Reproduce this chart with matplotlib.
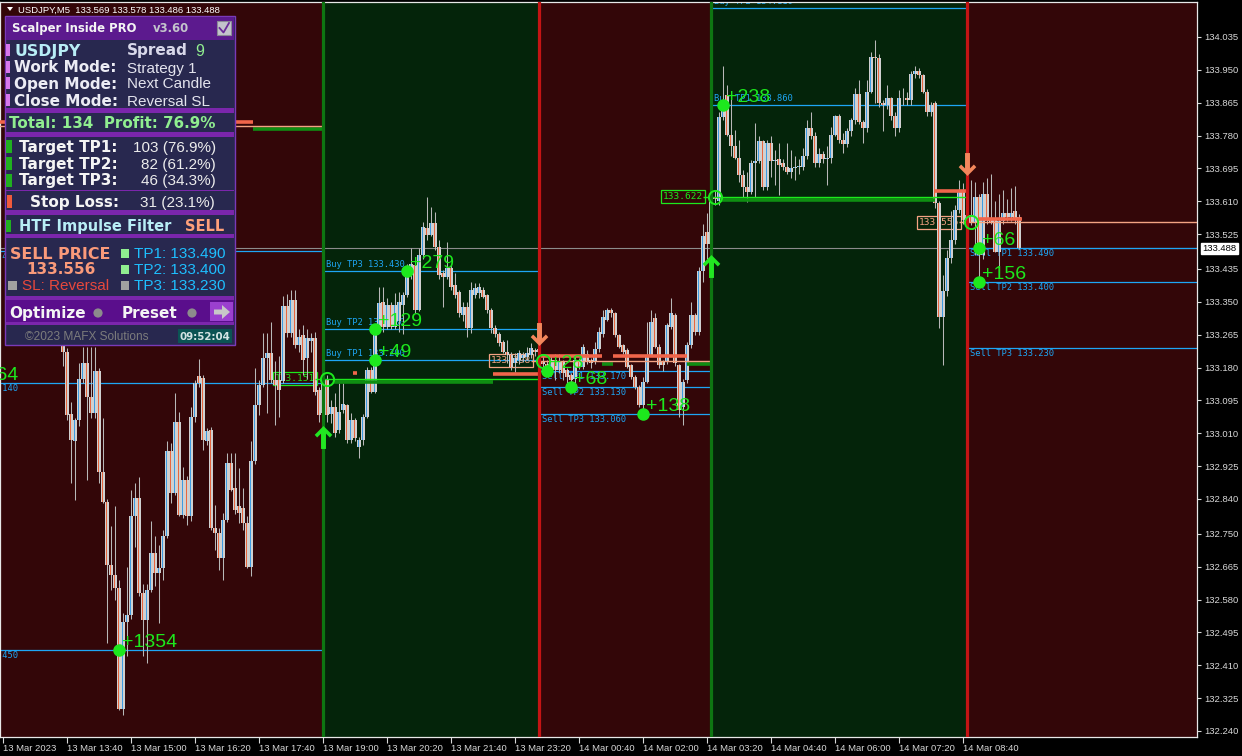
import numpy as np
import matplotlib as mpl
mpl.use('Agg')
import matplotlib.pyplot as plt
from matplotlib.patches import Rectangle, Circle, Polygon
from matplotlib.path import Path
from matplotlib.markers import MarkerStyle
from matplotlib.transforms import offset_copy, blended_transform_factory

W, H, DPI = 1242, 756, 100

# ---------------------------------------------------------------------------
# Candles (USDJPY M5, bar 0 = 13 Mar 12:20; bars before 15 sit under the panel)
# ---------------------------------------------------------------------------
FIRST_BAR = 15

OPEN = [
    133.250, 133.221, 133.060, 132.990, 133.045, 133.150, 133.191, 133.105, 133.062, 133.170,
    132.911, 132.833, 132.670, 132.644, 132.609, 132.296, 132.523, 132.540, 132.795, 132.842,
    132.596, 132.527, 132.605, 132.700, 132.648, 132.661, 132.743, 132.963, 132.855, 133.040,
    132.799, 132.890, 132.795, 133.053, 133.157, 133.152, 132.989, 133.019, 132.765, 132.752,
    132.687, 132.786, 132.933, 132.868, 132.821, 132.816, 132.777, 132.665, 132.937, 133.083,
    133.135, 133.204, 133.217, 133.148, 133.148, 133.144, 133.338, 133.270, 133.355, 133.239,
    133.265, 133.204, 133.248, 133.256, 133.122, 133.062, 133.148, 133.060, 133.079, 133.019,
    133.070, 133.083, 132.993, 133.044, 132.975, 132.993, 133.053, 133.174, 133.118, 133.281,
    133.350, 133.286, 133.342, 133.286, 133.300, 133.342, 133.368, 133.419, 133.445, 133.329,
    133.471, 133.540, 133.523, 133.553, 133.493, 133.424, 133.415, 133.437, 133.393, 133.376,
    133.316, 133.337, 133.281, 133.368, 133.372, 133.381, 133.368, 133.329, 133.281, 133.268,
    133.247, 133.221, 133.212, 133.191, 133.200, 133.204, 133.208, 133.212, 133.225, 133.221,
    133.198, 133.190, 133.173, 133.199, 133.173, 133.195, 133.173, 133.160, 133.150, 133.199,
    133.182, 133.215, 133.199, 133.195, 133.229, 133.268, 133.303, 133.328, 133.320, 133.264,
    133.238, 133.225, 133.186, 133.156, 133.130, 133.083, 133.143, 133.212, 133.307, 133.234,
    133.195, 133.195, 133.285, 133.315, 133.186, 133.078, 133.147, 133.238, 133.315, 133.272,
    133.430, 133.530, 133.500, 133.620, 133.610, 133.829, 133.885, 133.782, 133.752, 133.722,
    133.678, 133.648, 133.635, 133.709, 133.713, 133.765, 133.648, 133.760, 133.713, 133.719,
    133.708, 133.700, 133.685, 133.696, 133.700, 133.700, 133.728, 133.799, 133.778, 133.709,
    133.733, 133.720, 133.721, 133.782, 133.831, 133.769, 133.758, 133.791, 133.821, 133.887,
    133.816, 133.799, 133.894, 133.983, 133.980, 133.864, 133.860, 133.877, 133.831, 133.799,
    133.877, 133.877, 133.872, 133.940, 133.948, 133.937, 133.894, 133.842, 133.864, 133.605,
    133.312, 133.377, 133.463, 133.510, 133.588, 133.635, 133.562, 133.575, 133.556, 133.620,
    133.470, 133.630, 133.565, 133.565, 133.480, 133.560, 133.580, 133.570, 133.585, 133.569,
]
HIGH = [
    133.270, 133.230, 133.092, 133.050, 133.191, 133.234, 133.234, 133.234, 133.234, 133.180,
    133.050, 132.840, 132.770, 132.821, 132.630, 132.545, 132.665, 132.864, 132.881, 132.898,
    132.620, 132.620, 132.782, 132.743, 132.720, 132.760, 132.989, 132.985, 133.114, 133.066,
    132.924, 132.900, 133.079, 133.148, 133.202, 133.160, 133.023, 133.025, 132.825, 132.765,
    132.803, 132.958, 132.958, 132.958, 132.920, 132.868, 132.795, 132.989, 133.178, 133.148,
    133.269, 133.269, 133.299, 133.196, 133.210, 133.364, 133.370, 133.380, 133.380, 133.280,
    133.290, 133.280, 133.270, 133.273, 133.130, 133.160, 133.160, 133.096, 133.113, 133.139,
    133.139, 133.087, 133.062, 133.050, 133.000, 133.060, 133.182, 133.182, 133.286, 133.389,
    133.389, 133.360, 133.350, 133.372, 133.376, 133.376, 133.449, 133.488, 133.450, 133.490,
    133.557, 133.622, 133.596, 133.583, 133.510, 133.432, 133.506, 133.445, 133.424, 133.381,
    133.350, 133.350, 133.402, 133.398, 133.398, 133.389, 133.370, 133.333, 133.290, 133.273,
    133.250, 133.251, 133.220, 133.217, 133.225, 133.220, 133.234, 133.243, 133.230, 133.240,
    133.215, 133.200, 133.210, 133.216, 133.216, 133.200, 133.180, 133.165, 133.210, 133.205,
    133.240, 133.225, 133.205, 133.247, 133.285, 133.328, 133.333, 133.333, 133.324, 133.268,
    133.242, 133.230, 133.190, 133.160, 133.135, 133.156, 133.298, 133.328, 133.320, 133.240,
    133.200, 133.294, 133.359, 133.320, 133.190, 133.150, 133.245, 133.350, 133.320, 133.440,
    133.550, 133.580, 133.650, 133.640, 133.840, 133.959, 133.911, 133.885, 133.795, 133.769,
    133.691, 133.687, 133.717, 133.812, 133.778, 133.769, 133.769, 133.778, 133.743, 133.760,
    133.720, 133.760, 133.743, 133.726, 133.720, 133.747, 133.821, 133.842, 133.790, 133.747,
    133.740, 133.752, 133.803, 133.834, 133.835, 133.786, 133.799, 133.825, 133.903, 133.924,
    133.820, 133.924, 133.997, 134.028, 133.990, 133.872, 133.911, 133.880, 133.840, 133.898,
    133.903, 133.894, 133.946, 133.959, 133.954, 133.940, 133.900, 133.868, 133.870, 133.610,
    133.420, 133.484, 133.584, 133.601, 133.665, 133.657, 133.691, 133.665, 133.660, 133.630,
    133.660, 133.670, 133.680, 133.610, 133.630, 133.640, 133.615, 133.645, 133.650, 133.578,
]
LOW = [
    133.183, 133.045, 132.881, 132.838, 133.030, 133.140, 132.890, 133.050, 133.050, 132.881,
    132.830, 132.467, 132.605, 132.579, 132.295, 132.282, 132.433, 132.530, 132.717, 132.590,
    132.433, 132.415, 132.600, 132.614, 132.519, 132.630, 132.740, 132.830, 132.850, 132.795,
    132.790, 132.773, 132.782, 133.040, 133.130, 132.967, 132.980, 132.760, 132.709, 132.657,
    132.631, 132.780, 132.860, 132.800, 132.777, 132.760, 132.661, 132.640, 132.930, 133.058,
    133.130, 133.062, 133.140, 133.032, 133.053, 133.140, 133.260, 133.260, 133.230, 133.220,
    133.160, 133.150, 133.220, 133.110, 133.040, 133.036, 133.040, 133.036, 133.001, 133.010,
    133.062, 132.984, 132.984, 132.990, 132.945, 132.980, 133.050, 133.113, 133.113, 133.270,
    133.273, 133.280, 133.280, 133.280, 133.273, 133.268, 133.363, 133.410, 133.320, 133.325,
    133.460, 133.510, 133.520, 133.483, 133.410, 133.337, 133.410, 133.381, 133.360, 133.310,
    133.300, 133.260, 133.270, 133.360, 133.360, 133.359, 133.320, 133.270, 133.260, 133.235,
    133.217, 133.191, 133.174, 133.169, 133.190, 133.195, 133.200, 133.205, 133.210, 133.215,
    133.180, 133.168, 133.165, 133.147, 133.165, 133.147, 133.140, 133.128, 133.140, 133.175,
    133.175, 133.190, 133.180, 133.190, 133.220, 133.260, 133.300, 133.311, 133.260, 133.230,
    133.215, 133.178, 133.150, 133.125, 133.078, 133.060, 133.140, 133.210, 133.230, 133.180,
    133.170, 133.190, 133.280, 133.185, 133.053, 133.031, 133.140, 133.230, 133.265, 133.265,
    133.400, 133.460, 133.490, 133.600, 133.601, 133.820, 133.780, 133.726, 133.720, 133.661,
    133.622, 133.609, 133.630, 133.622, 133.710, 133.640, 133.640, 133.674, 133.653, 133.627,
    133.690, 133.680, 133.670, 133.666, 133.680, 133.690, 133.720, 133.770, 133.700, 133.700,
    133.710, 133.653, 133.710, 133.780, 133.760, 133.735, 133.750, 133.780, 133.810, 133.810,
    133.760, 133.790, 133.890, 133.864, 133.855, 133.791, 133.850, 133.820, 133.778, 133.790,
    133.860, 133.860, 133.860, 133.930, 133.930, 133.890, 133.830, 133.830, 133.592, 133.282,
    133.187, 133.364, 133.450, 133.500, 133.580, 133.550, 133.550, 133.549, 133.470, 133.398,
    133.460, 133.550, 133.550, 133.480, 133.420, 133.550, 133.560, 133.560, 133.550, 133.486,
]
CLOSE = [
    133.221, 133.058, 132.993, 133.045, 133.150, 133.191, 133.105, 133.062, 133.170, 132.911,
    132.833, 132.670, 132.644, 132.609, 132.296, 132.523, 132.540, 132.795, 132.842, 132.596,
    132.527, 132.605, 132.700, 132.648, 132.661, 132.743, 132.963, 132.855, 133.040, 132.799,
    132.890, 132.795, 133.053, 133.140, 133.140, 132.993, 133.015, 132.765, 132.752, 132.687,
    132.786, 132.933, 132.864, 132.812, 132.803, 132.777, 132.665, 132.937, 133.083, 133.135,
    133.204, 133.217, 133.148, 133.135, 133.122, 133.338, 133.270, 133.355, 133.239, 133.260,
    133.200, 133.256, 133.256, 133.118, 133.058, 133.148, 133.058, 133.079, 133.010, 133.066,
    133.087, 132.993, 133.044, 132.997, 132.993, 133.053, 133.174, 133.118, 133.281, 133.346,
    133.286, 133.342, 133.286, 133.342, 133.350, 133.368, 133.419, 133.449, 133.329, 133.471,
    133.544, 133.523, 133.553, 133.493, 133.419, 133.415, 133.437, 133.389, 133.368, 133.320,
    133.337, 133.281, 133.381, 133.385, 133.389, 133.363, 133.329, 133.281, 133.268, 133.243,
    133.221, 133.212, 133.182, 133.204, 133.217, 133.212, 133.217, 133.230, 133.221, 133.229,
    133.190, 133.175, 133.199, 133.173, 133.195, 133.165, 133.156, 133.147, 133.199, 133.182,
    133.234, 133.195, 133.191, 133.229, 133.272, 133.311, 133.328, 133.320, 133.264, 133.234,
    133.221, 133.182, 133.156, 133.130, 133.083, 133.143, 133.212, 133.298, 133.234, 133.186,
    133.186, 133.290, 133.320, 133.191, 133.070, 133.143, 133.238, 133.315, 133.272, 133.430,
    133.520, 133.500, 133.620, 133.615, 133.829, 133.855, 133.782, 133.752, 133.722, 133.678,
    133.648, 133.635, 133.709, 133.713, 133.765, 133.648, 133.760, 133.713, 133.717, 133.704,
    133.700, 133.685, 133.696, 133.700, 133.701, 133.728, 133.799, 133.778, 133.709, 133.733,
    133.719, 133.721, 133.782, 133.831, 133.769, 133.758, 133.791, 133.821, 133.887, 133.816,
    133.799, 133.894, 133.983, 133.980, 133.864, 133.860, 133.877, 133.831, 133.799, 133.877,
    133.876, 133.872, 133.940, 133.948, 133.937, 133.894, 133.842, 133.859, 133.605, 133.312,
    133.377, 133.463, 133.510, 133.588, 133.635, 133.562, 133.575, 133.556, 133.620, 133.470,
    133.630, 133.560, 133.555, 133.480, 133.560, 133.580, 133.570, 133.580, 133.565, 133.488,
]

TIME_TICKS = [0, 16, 32, 48, 64, 80, 96, 112, 128, 144, 160, 176, 192, 208, 224, 240]
TIME_LABELS = ['13 Mar 2023', '13 Mar 13:40', '13 Mar 15:00', '13 Mar 16:20',
               '13 Mar 17:40', '13 Mar 19:00', '13 Mar 20:20', '13 Mar 21:40',
               '13 Mar 23:20', '14 Mar 00:40', '14 Mar 02:00', '14 Mar 03:20',
               '14 Mar 04:40', '14 Mar 06:00', '14 Mar 07:20', '14 Mar 08:40']
PRICE_TICKS = [134.035, 133.950, 133.865, 133.780, 133.695, 133.610, 133.525, 133.435,
               133.350, 133.265, 133.180, 133.095, 133.010, 132.925, 132.840, 132.750,
               132.665, 132.580, 132.495, 132.410, 132.325, 132.240]
LAST_PRICE = 133.488
HEADER = 'USDJPY,M5  133.569 133.578 133.486 133.488'

# ---------------------------------------------------------------------------
# Indicator: trades (one per coloured zone)
# ---------------------------------------------------------------------------
TRADE_SIDE = ['sell', 'buy', 'sell', 'buy', 'sell']
SIGNAL_BAR = [-18, 80, 134, 177, 241]
END_BAR = [80, 134, 177, 241, 299]
ENTRY_BAR = [-17, 81, 135, 178, 242]
ENTRY_PRICE = [133.804, 133.151, 133.198, 133.622, 133.556]
TP1 = [133.481, 133.200, 133.170, 133.860, 133.490]
TP2 = [133.140, 133.280, 133.130, 134.110, 133.400]
TP3 = [132.450, 133.430, 133.060, None, 133.230]
ARROW_PRICE = [None, 133.000, 133.268, 133.443, 133.707]

# TP hits: filled dots with profit in points
HIT_BAR = [-8, 29, 93, 93, 101, 136, 142, 160, 180, 244, 244]
HIT_PRICE = [133.140, 132.450, 133.200, 133.280, 133.430, 133.170, 133.130,
             133.060, 133.860, 133.490, 133.400]
HIT_TEXT = ['+664', '+1354', '+49', '+129', '+279', '+28', '+68', '+138',
            '+238', '+66', '+156']

# signal-strength bands drawn along the entry lines
BAND_START = [-18, 62.5, 82.5, 122.5, 87.5, 133.75, 152.5, 149.75, 171, 179.25, 233, 244]
BAND_END = [62.5, 80, 122.5, 134, 88.5, 149.75, 171, 152.5, 177, 233, 241, 254.75]
BAND_PRICE = [133.815, 133.797, 133.143, 133.164, 133.167, 133.210, 133.210, 133.189,
              133.189, 133.614, 133.637, 133.565]
BAND_KIND = ['sell', 'buy', 'buy', 'sell', 'sell', 'sell', 'sell', 'buy', 'buy',
             'buy', 'sell', 'sell']

# colours
BG_SELL = '#330608'
BG_BUY = '#04240a'
LINE_SELL = '#c41414'
LINE_BUY = '#0e7612'
WICK = '#b8b8b8'
BODY_UP = '#3d9be2'
BODY_DN = '#e8663e'
BODY_GREY = '#d0d0d0'
TP_COL = '#1ea6f5'
LIME = '#1de81d'
PEACH = '#f4a383'
BAND_COL = {'sell': '#f0654b', 'buy': '#0f8e12'}
ARROW_COL = {'buy': '#22e622', 'sell': '#f3875c'}

# plot area in pixels
PLOT_L, PLOT_R, PLOT_T, PLOT_B = 0, 1197, 2, 737
X0, X1 = -0.75, 298.5
Y_TOP, Y_BOT = 134.1255, 132.2244

MONO = 'DejaVu Sans Mono'
SANS = 'Liberation Sans'

fig = plt.figure(figsize=(W / DPI, H / DPI), dpi=DPI, facecolor='black')
ax = fig.add_axes([PLOT_L / W, 1 - PLOT_B / H, (PLOT_R - PLOT_L) / W, (PLOT_B - PLOT_T) / H])
ax.set_xlim(X0, X1)
ax.set_ylim(Y_BOT, Y_TOP)
ax.set_facecolor(BG_SELL)


def offs(dx, dy):
    return offset_copy(ax.transData, fig=fig, x=dx, y=dy, units='dots')


# zones + separators
for k in range(len(SIGNAL_BAR)):
    bg = BG_BUY if TRADE_SIDE[k] == 'buy' else BG_SELL
    ax.axvspan(SIGNAL_BAR[k], END_BAR[k], color=bg, lw=0, zorder=0)
    ax.axvline(SIGNAL_BAR[k], color=LINE_BUY if TRADE_SIDE[k] == 'buy' else LINE_SELL,
               lw=2.3, zorder=5)

ax.axhline(LAST_PRICE, color='#8c8c8c', lw=0.8, zorder=1.5)

# TP lines and labels, entry lines, price boxes
for k in range(len(SIGNAL_BAR)):
    buy = TRADE_SIDE[k] == 'buy'
    word = 'Buy' if buy else 'Sell'
    for n, tp in enumerate([TP1[k], TP2[k], TP3[k]], start=1):
        if tp is None:
            continue
        ax.hlines(tp, SIGNAL_BAR[k], END_BAR[k], color=TP_COL, lw=0.9, zorder=1.6)
        ax.text(SIGNAL_BAR[k] + 0.75, tp, f'{word} TP{n} {tp:.3f}',
                transform=offs(0, 2 if buy else -1),
                va='bottom' if buy else 'top', ha='left', fontsize=6.3,
                family=MONO, color=TP_COL, clip_on=True, zorder=1.7)
    col = LIME if buy else PEACH
    ax.hlines(ENTRY_PRICE[k], SIGNAL_BAR[k] - 2, END_BAR[k], color=col, lw=1.0, zorder=4)
    ax.text(SIGNAL_BAR[k] - 2, ENTRY_PRICE[k], f'{ENTRY_PRICE[k]:.3f}', ha='right',
            va='center', fontsize=6.8, family=MONO, color=col, clip_on=True, zorder=2.5,
            bbox=dict(boxstyle='square,pad=0.2', fc='none', ec=col, lw=0.9))

# candles: grey wick, grey body with a coloured stripe on its left half
bars = np.arange(FIRST_BAR, FIRST_BAR + len(OPEN))
o = np.array(OPEN)
c = np.array(CLOSE)
ax.vlines(bars, LOW, HIGH, color=WICK, lw=0.75, zorder=3)
body_lo = np.minimum(o, c)
body_h = np.maximum(np.abs(c - o), 0.0018)
ax.bar(bars, body_h, bottom=body_lo, width=0.84, color=BODY_GREY, linewidth=0, zorder=3.1)
ax.bar(bars - 0.14, body_h, bottom=body_lo, width=0.38,
       color=[BODY_UP if cc >= oo else BODY_DN for oo, cc in zip(o, c)],
       linewidth=0, zorder=3.2)

# bands
for s, e, p, kind in zip(BAND_START, BAND_END, BAND_PRICE, BAND_KIND):
    ax.hlines(p, s, e, color=BAND_COL[kind], lw=2.6, zorder=3.5, capstyle='butt')

# entry circles
for k in range(len(SIGNAL_BAR)):
    ax.plot(ENTRY_BAR[k], ENTRY_PRICE[k], 'o', ms=9.5, mfc='none', mec=LIME, mew=1.4,
            zorder=7)

# signal arrows
UP_VERTS = [(0, 32.5), (25, 7.5), (18, 0), (7, 11), (7, -32.5), (-7, -32.5),
            (-7, 11), (-18, 0), (-25, 7.5), (0, 32.5)]
CODES = [Path.MOVETO] + [Path.LINETO] * 8 + [Path.CLOSEPOLY]
UP_MARK = MarkerStyle(Path(UP_VERTS, CODES))
DN_MARK = MarkerStyle(Path([(x, -y) for x, y in UP_VERTS], CODES))
for k in range(len(SIGNAL_BAR)):
    if ARROW_PRICE[k] is None:
        continue
    buy = TRADE_SIDE[k] == 'buy'
    ax.plot(SIGNAL_BAR[k], ARROW_PRICE[k], marker=UP_MARK if buy else DN_MARK, ms=16.5,
            color=ARROW_COL[TRADE_SIDE[k]], mew=0, zorder=8)

# TP hit dots + profits
for b, p, t in zip(HIT_BAR, HIT_PRICE, HIT_TEXT):
    ax.plot(b, p, 'o', ms=8, color=LIME, zorder=8, clip_on=True)
    ax.text(b, p, t, transform=offs(3, 3), ha='left', va='baseline', fontsize=14,
            family=SANS, color=LIME, clip_on=True, zorder=9)

# axes styling
for sp in ax.spines.values():
    sp.set_color('#e8e8e8')
    sp.set_linewidth(0.9)
ax.yaxis.tick_right()
ax.set_yticks(PRICE_TICKS)
ax.set_yticklabels([f'{v:.3f}' for v in PRICE_TICKS])
ax.set_xticks(TIME_TICKS)
ax.set_xticklabels(TIME_LABELS, ha='left')
ax.tick_params(axis='y', colors='#d8d8d8', labelsize=6.8, length=3, width=0.8, pad=2)
ax.tick_params(axis='x', colors='#d8d8d8', labelsize=6.8, length=4, width=0.8, pad=1)
for lab in ax.get_xticklabels() + ax.get_yticklabels():
    lab.set_family(SANS)

ax.text(1.0045, LAST_PRICE, f'{LAST_PRICE:.3f}',
        transform=blended_transform_factory(ax.transAxes, ax.transData),
        ha='left', va='center', fontsize=6.8, family=SANS, color='black', clip_on=False,
        zorder=10, bbox=dict(boxstyle='square,pad=0.15', fc='white', ec='white'))

# ---------------------------------------------------------------------------
# Overlay: header + Scalper Inside panel (pixel coordinates)
# ---------------------------------------------------------------------------
pax = fig.add_axes([0, 0, 1, 1], zorder=20)
pax.set_xlim(0, W)
pax.set_ylim(H, 0)
pax.axis('off')
pax.patch.set_alpha(0)


def box(x0, y0, x1, y1, color, **kw):
    pax.add_patch(Rectangle((x0, y0), x1 - x0, y1 - y0, fc=color, ec=kw.pop('ec', 'none'), **kw))


def txt(x, yc, s, size, color, bold=False, family=None, ha='left'):
    fam = family or ('DejaVu Sans' if bold else SANS)
    pax.text(x, yc + 0.36 * size * DPI / 72, s, fontsize=size, color=color, ha=ha,
             va='baseline', family=fam, fontweight='bold' if bold else 'normal')


pax.add_patch(Polygon([(7, 7), (13, 7), (10, 11)], closed=True, fc='white', ec='none'))
txt(18, 9.5, HEADER, 6.8, 'white')

PANEL_BG = '#28284f'
SEP = '#7b26ac'
box(5, 16, 235, 345, PANEL_BG, ec='#7a3ab8', lw=1)
box(6, 17, 234, 40, '#5c1a8e')
txt(12, 28, 'Scalper Inside PRO', 8.4, '#f4f4f4', bold=True)
txt(153, 28, 'v3.60', 8.4, '#c4c4cc', bold=True)
box(217, 21, 231, 35, '#c4c4cc', ec='#8a8a96', lw=0.8)
pax.plot([219.5, 223.5, 229], [28, 32.5, 23], color='#6b2a9a', lw=1.3)

for yc in [50, 67, 83, 100]:
    box(6, yc - 6, 9.5, yc + 6, '#d878ec')
txt(14, 50, 'USDJPY', 11.3, '#b8eef6', bold=True)
txt(127, 50, 'Spread', 11, '#d8d8ea', bold=True)
txt(195, 50, '9', 11.5, '#90ee90')
for yc, lab, val in [(67, 'Work Mode:', 'Strategy 1'), (83, 'Open Mode:', 'Next Candle'),
                     (100, 'Close Mode:', 'Reversal SL')]:
    txt(14, yc, lab, 11, '#ececf4', bold=True)
    txt(127, yc, val, 11, '#e4e4ee')

box(6, 108, 234, 113, SEP)
txt(9, 123, 'Total: 134  Profit: 76.9%', 10.9, '#90ee90', bold=True)
box(6, 132, 234, 136.5, SEP)

for yc, lab, val, vx in [(146.5, 'Target TP1:', '103 (76.9%)', 133),
                         (163, 'Target TP2:', '82 (61.2%)', 141),
                         (180, 'Target TP3:', '46 (34.3%)', 141)]:
    box(6, yc - 6.5, 11.5, yc + 6.5, '#20b020')
    txt(19, yc, lab, 11, '#f4f4f4', bold=True)
    txt(vx, yc, val, 11, '#ececec')
box(6, 189.5, 234, 191, SEP)
box(6.5, 194.5, 11.5, 207.5, '#f05a3c')
txt(30, 201, 'Stop Loss:', 11, '#f4f4f4', bold=True)
txt(140, 201, '31 (23.1%)', 11, '#ececec')
box(6, 210, 234, 215, SEP)
box(6, 219.5, 11, 232, '#20b020')
txt(19, 226, 'HTF Impulse Filter', 10.5, '#b8eef6', bold=True)
txt(185, 226, 'SELL', 10.5, '#ffa07a', bold=True)
box(6, 233.5, 234, 238, SEP)

txt(10, 253, 'SELL PRICE', 11.4, '#fa9a7a', bold=True)
txt(61, 269, '133.556', 11, '#fa9a7a', bold=True, ha='center')
box(7.5, 280.5, 16.5, 289.5, '#a0a0a0')
txt(22, 285, 'SL: Reversal', 11, '#e8483c')
for yc, lab, sq in [(253, 'TP1: 133.490', '#90ee90'), (269, 'TP2: 133.400', '#90ee90'),
                    (285, 'TP3: 133.230', '#a0a0a0')]:
    box(121, yc - 4.5, 129, yc + 4.5, sq)
    txt(134, yc, lab, 11, '#1ebfff')

box(6, 296, 234, 300, SEP)
box(6, 300, 234, 322, '#5a0e8c')
txt(9, 312.5, 'Optimize', 11, '#f4f4f4', bold=True)
pax.add_patch(Circle((98, 313), 4.6, fc='#8c8c8c', ec='none'))
txt(122, 312.5, 'Preset', 11, '#f4f4f4', bold=True)
pax.add_patch(Circle((192, 313), 4.6, fc='#8c8c8c', ec='none'))
box(210, 302, 233, 321, '#9b40cf')
pax.add_patch(Polygon([(214, 309.5), (222, 309.5), (222, 305), (230, 312), (222, 319),
                       (222, 314.5), (214, 314.5)], closed=True, fc='#c8c8c8', ec='none'))
box(6, 322, 234, 325, SEP)
txt(25, 336, '\u00a92023 MAFX Solutions', 8.6, '#7c7c7c')
box(178, 328.5, 231.5, 343, '#0b5454')
txt(204.5, 335.8, '09:52:04', 7.4, '#d4e4e4', bold=True, ha='center')

fig.savefig('out.png', dpi=DPI, facecolor='black')
